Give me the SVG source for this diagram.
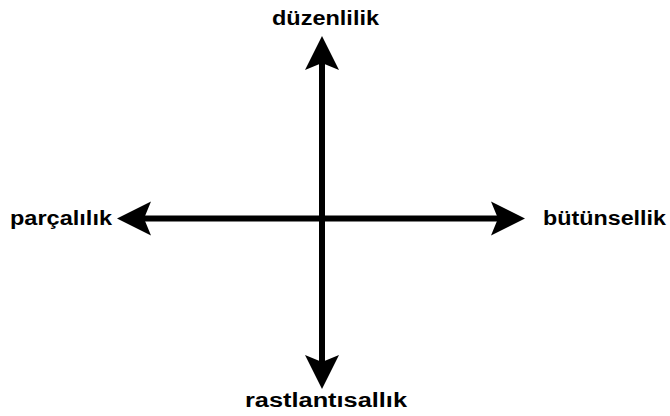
<svg xmlns="http://www.w3.org/2000/svg" width="670" height="416" viewBox="0 0 670 416">
<style>
.lbl{font-family:"Liberation Sans",Arial,sans-serif;font-weight:bold;font-size:20px;fill:#000}
.ax{stroke:#000;stroke-width:6;fill:none}
</style>
<defs>
<marker id="ah" markerUnits="userSpaceOnUse" viewBox="-8 -18 36 36" markerWidth="36" markerHeight="36" refX="0" refY="0" orient="auto-start-reverse">
<path d="M27,0 L-7,-17 L0,0 L-7,17 Z" fill="#000"/>
</marker>
</defs>
<rect width="670" height="416" fill="#fff"/>
<g id="connectors">
<line class="ax" x1="322" y1="63" x2="322" y2="362" marker-start="url(#ah)" marker-end="url(#ah)"/>
<line class="ax" x1="144" y1="218.5" x2="498" y2="218.5" marker-start="url(#ah)" marker-end="url(#ah)"/>
</g>
<g id="top"><text class="lbl" x="272" y="25" textLength="107" lengthAdjust="spacingAndGlyphs">düzenlilik</text></g>
<g id="left"><text class="lbl" x="10" y="225" textLength="102" lengthAdjust="spacingAndGlyphs">parçalılık</text></g>
<g id="right"><text class="lbl" x="543" y="225" textLength="123" lengthAdjust="spacingAndGlyphs">bütünsellik</text></g>
<g id="bottom"><text class="lbl" x="245" y="407" textLength="162" lengthAdjust="spacingAndGlyphs">rastlantısallık</text></g>
</svg>
